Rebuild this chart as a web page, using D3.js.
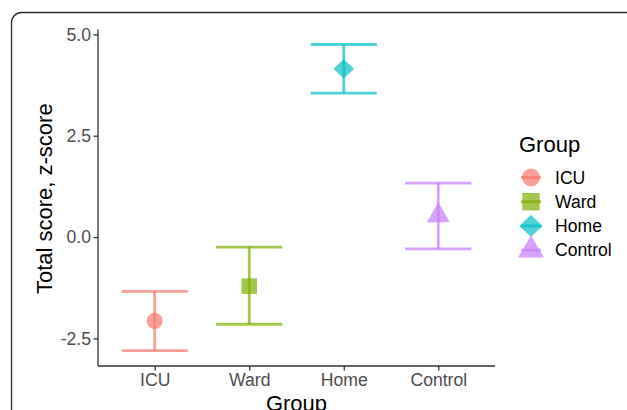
<!DOCTYPE html>
<html>
<head>
<meta charset="utf-8">
<script src="https://cdn.jsdelivr.net/npm/d3@7"></script>
<style>
  html, body { margin: 0; padding: 0; background: #fff; }
  svg { display: block; }
  text { font-family: "Liberation Sans", Arial, Helvetica, sans-serif; }
</style>
</head>
<body>
<svg id="chart" width="627" height="410"></svg>
<script>
const groups = ["ICU", "Ward", "Home", "Control"];
const means = [-2.07, -1.21, 4.15, 0.53];
const lower = [-2.80, -2.15, 3.55, -0.29];
const upper = [-1.34, -0.25, 4.75, 1.33];
const colors = ["#F8766D", "#7CAE00", "#00BFC4", "#C77CFF"];
const shapes = ["circle", "square", "diamond", "triangle"];
const yTicks = [-2.5, 0.0, 2.5, 5.0];

const svg = d3.select("#chart");
const plot = { left: 98, right: 495, top: 29.5, bottom: 366 };

// outer rounded frame
svg.append("rect")
  .attr("x", 11.5).attr("y", 12.5)
  .attr("width", 700).attr("height", 500)
  .attr("rx", 10).attr("ry", 10)
  .attr("fill", "none").attr("stroke", "#2a2a2a").attr("stroke-width", 1.3);

const x = d3.scalePoint().domain(groups).range([plot.left, plot.right]).padding(0.6);
const y = d3.scaleLinear().domain([-3.18, 5.12]).range([plot.bottom, plot.top]);

const alpha = 0.7;

function symbolPath(shape, cx, cy, s) {
  if (shape === "circle") {
    const p = d3.path(); p.arc(cx, cy, s, 0, 2 * Math.PI); return p.toString();
  }
  if (shape === "square") {
    const h = s * 0.97;
    return `M${cx - h},${cy - h}H${cx + h}V${cy + h}H${cx - h}Z`;
  }
  if (shape === "diamond") {
    const h = s * 1.3;
    const v = s * 1.2;
    return `M${cx},${cy - v}L${cx + h},${cy}L${cx},${cy + v}L${cx - h},${cy}Z`;
  }
  const xc = s * 1.07;
  const r = 1.555 * xc, hh = 1.347 * xc, yc = 0.778 * xc;
  return `M${cx},${cy - r}L${cx + hh},${cy + yc}L${cx - hh},${cy + yc}Z`;
}

// error bars
const halfCap = x.step() * 0.35;
const g = svg.append("g");
groups.forEach((grp, i) => {
  const cx = x(grp);
  const eb = g.append("g").attr("stroke", colors[i]).attr("stroke-opacity", alpha)
    .attr("stroke-width", 2.8).attr("fill", "none");
  eb.append("line").attr("x1", cx - halfCap).attr("x2", cx + halfCap)
    .attr("y1", y(upper[i])).attr("y2", y(upper[i]));
  eb.append("line").attr("x1", cx - halfCap).attr("x2", cx + halfCap)
    .attr("y1", y(lower[i])).attr("y2", y(lower[i]));
  eb.append("line").attr("x1", cx).attr("x2", cx)
    .attr("y1", y(upper[i])).attr("y2", y(lower[i]));
});
groups.forEach((grp, i) => {
  g.append("path").attr("d", symbolPath(shapes[i], x(grp), y(means[i]), 8))
    .attr("fill", colors[i]).attr("fill-opacity", alpha);
});

// axes
const axisColor = "#333333";
const textColor = "#4D4D4D";
const fmt = d => d.toFixed(1);
const yAxis = svg.append("g").attr("transform", `translate(${plot.left},0)`)
  .call(d3.axisLeft(y).tickValues(yTicks).tickFormat(fmt).tickSize(4.5).tickPadding(2.5));
yAxis.select(".domain").attr("d", `M0,${plot.top}V${plot.bottom}`);
const xAxis = svg.append("g").attr("transform", `translate(0,${plot.bottom})`)
  .call(d3.axisBottom(x).tickSize(4.5).tickPadding(3));
xAxis.select(".domain").attr("d", `M${plot.left},0H${plot.right}`);
[yAxis, xAxis].forEach(a => {
  a.select(".domain").attr("stroke", axisColor).attr("stroke-width", 1.3);
  a.selectAll(".tick line").attr("stroke", axisColor).attr("stroke-width", 1.3);
  a.selectAll(".tick text").attr("fill", textColor)
    .style("font-family", '"Liberation Sans", Arial, sans-serif').style("font-size", "17.6px");
});
xAxis.selectAll(".tick text").attr("dy", null).attr("y", 20);

// axis titles
svg.append("text").attr("x", (plot.left + plot.right) / 2).attr("y", 411)
  .attr("text-anchor", "middle").style("font-size", "22px").attr("fill", "#000").text("Group");
svg.append("text").attr("transform", `translate(52,${(plot.top + plot.bottom) / 2 + 1}) rotate(-90)`)
  .attr("text-anchor", "middle").style("font-size", "22px").attr("fill", "#000").text("Total score, z-score");

// legend
const lg = svg.append("g");
lg.append("text").attr("x", 519).attr("y", 151.5).style("font-size", "22px").attr("fill", "#000").text("Group");
const ly0 = 177.5, lstep = 24.2, lkx = 531;
groups.forEach((grp, i) => {
  const cy = ly0 + i * lstep;
  lg.append("line").attr("x1", lkx - 10).attr("x2", lkx + 10).attr("y1", cy).attr("y2", cy)
    .attr("stroke", colors[i]).attr("stroke-opacity", alpha).attr("stroke-width", 2.8);
  lg.append("path").attr("d", symbolPath(shapes[i], lkx, cy, 9))
    .attr("fill", colors[i]).attr("fill-opacity", alpha);
  lg.append("text").attr("x", 555).attr("y", cy + 6.2).style("font-size", "17.6px")
    .attr("fill", "#000").text(grp);
});
</script>
</body>
</html>
